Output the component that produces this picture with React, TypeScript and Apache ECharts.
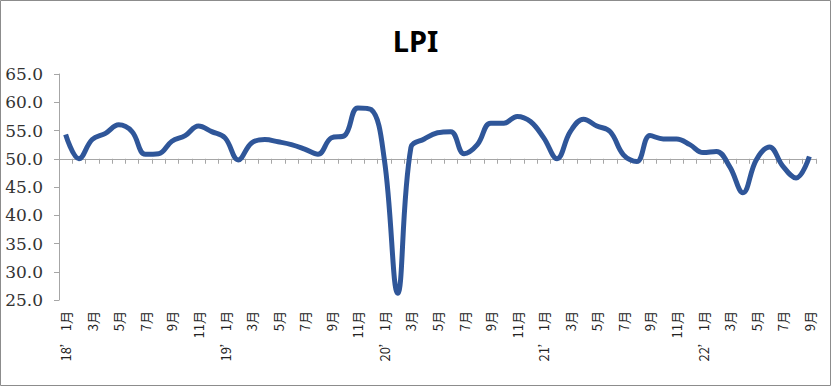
import React, { useEffect, useRef } from "react";
import * as echarts from "echarts";

const years = ["18", "19", "20", "21", "22"];
const monthsPerYear = [12, 12, 12, 12, 9];
const lpiValues = [
  54.3, 50.0, 53.4, 54.5, 56.0, 54.8, 50.8, 50.9, 53.1, 54.1, 55.8, 54.8,
  53.7, 49.8, 52.8, 53.4, 53.0, 52.5, 51.7, 50.8, 53.7, 54.1, 59.0, 58.7,
  49.8, 26.2, 52.0, 53.5, 54.6, 54.8, 50.9, 52.5, 56.3, 56.3, 57.5, 56.6,
  53.7, 50.0, 54.8, 57.0, 55.8, 54.8, 50.7, 49.5, 54.1, 53.5, 53.5, 52.5,
  51.1, 51.3, 48.6, 44.0, 49.8, 52.1, 48.7, 46.6, 50.4,
];
const yMin = 25;
const yMax = 65;
const yInterval = 5;
const crossValue = 50;

const categories: string[] = [];
years.forEach((y, yi) => {
  for (let m = 1; m <= monthsPerYear[yi]; m++) {
    categories.push(m === 1 ? `${y}’ ${m}月` : `${m}月`);
  }
});

const W = 831;
const H = 387;
const gridTop = 74;
const gridBottom = 87;
const gridLeft = 59;
const gridRight = 15;

export default function App() {
  const ref = useRef<HTMLDivElement>(null);
  useEffect(() => {
    document.body.style.margin = "0";
    if (!ref.current) return;
    const chart = echarts.init(ref.current, null, { renderer: "svg" });
    const gridH = H - gridTop - gridBottom;
    const crossOffset = -(gridH * (crossValue - yMin)) / (yMax - yMin);
    chart.setOption({
      animation: false,
      backgroundColor: "#ffffff",
      title: {
        text: "LPI",
        left: "center",
        top: 21,
        textStyle: {
          fontFamily: "Noto Sans",
          fontWeight: "bold",
          fontSize: 29,
          color: "#000000",
        },
      },
      graphic: [
        {
          type: "rect",
          shape: { x: 0.5, y: 0.5, width: 830, height: 385 },
          style: { fill: "none", stroke: "#8c8c8c", lineWidth: 1 },
          silent: true,
        },
      ],
      grid: { left: gridLeft, right: gridRight, top: gridTop, bottom: gridBottom },
      xAxis: [
        {
          type: "category",
          data: categories,
          boundaryGap: true,
          axisLine: { show: false },
          axisTick: { show: false },
          axisLabel: {
            interval: 1,
            rotate: 90,
            margin: 11,
            fontSize: 13,
            fontFamily: "Noto Sans CJK SC",
            color: "#222222",
          },
          splitLine: { show: false },
        },
        {
          type: "category",
          data: categories,
          position: "bottom",
          offset: crossOffset,
          boundaryGap: true,
          axisLine: { show: true, lineStyle: { color: "#a6a6a6", width: 1 } },
          axisTick: {
            show: true,
            interval: 0,
            length: 5,
            lineStyle: { color: "#a6a6a6" },
          },
          axisLabel: { show: false },
          splitLine: { show: false },
        },
      ],
      yAxis: {
        type: "value",
        min: yMin,
        max: yMax,
        interval: yInterval,
        axisLine: { show: true, lineStyle: { color: "#a6a6a6" } },
        axisTick: { show: true, length: 5, lineStyle: { color: "#a6a6a6" } },
        splitLine: { show: false },
        axisLabel: {
          formatter: (v: number) => v.toFixed(1),
          margin: 16,
          fontSize: 17,
          fontFamily: "DejaVu Serif",
          color: "#333333",
        },
      },
      series: [
        {
          type: "line",
          data: lpiValues,
          xAxisIndex: 0,
          smooth: 0.4,
          symbol: "none",
          lineStyle: { color: "#2f5699", width: 5 },
        },
      ],
    });
    return () => chart.dispose();
  }, []);
  return <div ref={ref} style={{ width: W, height: H, position: "absolute", left: 0, top: 0 }} />;
}
